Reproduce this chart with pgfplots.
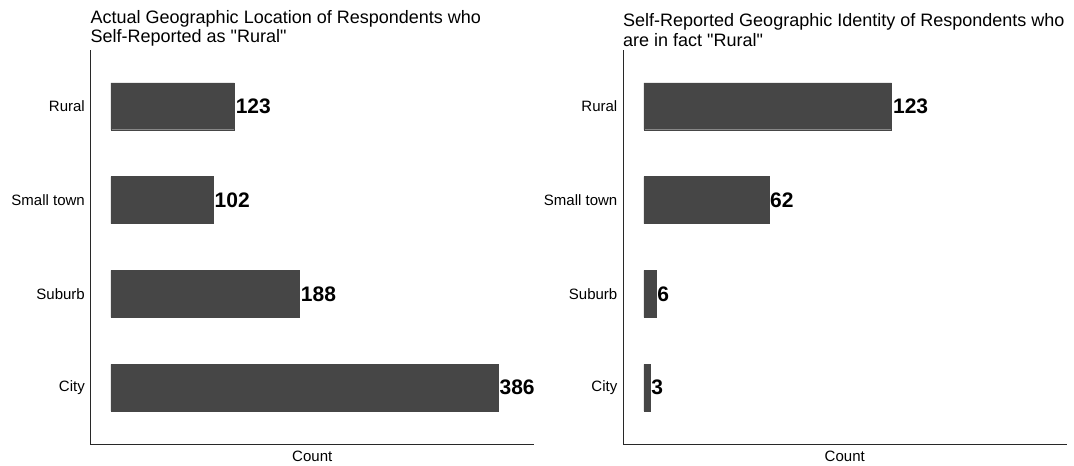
\documentclass[border=0pt]{standalone}
\usepackage{fontspec}
\setmainfont{Liberation Sans}
\usepackage{pgfplots}
\pgfplotsset{compat=1.18}
\definecolor{barc}{RGB}{70,70,70}
\definecolor{axc}{RGB}{40,40,40}
\pgfplotsset{
  panel/.style={
    xbar, scale only axis, width=443.5pt, height=394pt,
    axis lines*=left, axis line style={-, line width=1pt, color=axc},
    ymin=0.4, ymax=4.6, ytick={1,2,3,4},
    yticklabels={City,Suburb,Small town,Rural},
    xtick=\empty, major tick length=0pt,
    yticklabel style={font=\fontsize{15}{16}\selectfont, inner sep=0pt, xshift=-5.5pt},
    bar width=0.5, clip=false,
    xlabel={Count},
    xlabel style={at={(axis description cs:0.5,0)}, anchor=north, inner sep=0pt, yshift=-6.5pt, font=\fontsize{15}{16}\selectfont},
    title style={at={(axis description cs:0,1)}, anchor=south west, align=left, inner sep=0pt, yshift=-2.5pt, font=\fontsize{18}{19.5}\selectfont},
    nodes near coords,
    nodes near coords style={anchor=west, inner sep=1.2pt, font=\fontsize{21}{21}\selectfont\bfseries},
    /pgf/number format/assume math mode=true,
  }
}
\begin{document}
\begin{tikzpicture}[x=1pt,y=1pt]
\path[use as bounding box] (0,0) rectangle (1074,466);
\begin{axis}[panel, at={(90.5pt,22pt)}, anchor=south west,
  xmin=-20.4, xmax=421.7,
  title={Actual Geographic Location of Respondents who\\Self-Reported as \textquotedbl Rural\textquotedbl}]
\addplot[fill=barc, draw=barc] coordinates {(386,1) (188,2) (102,3) (123,4)};
\end{axis}
\begin{axis}[panel, at={(623pt,22pt)}, anchor=south west,
  xmin=-10.4, xmax=209.8,
  title={Self-Reported Geographic Identity of Respondents who\\are in fact \textquotedbl Rural\textquotedbl}]
\addplot[fill=barc, draw=barc] coordinates {(3,1) (6,2) (62,3) (123,4)};
\end{axis}
\end{tikzpicture}
\end{document}
